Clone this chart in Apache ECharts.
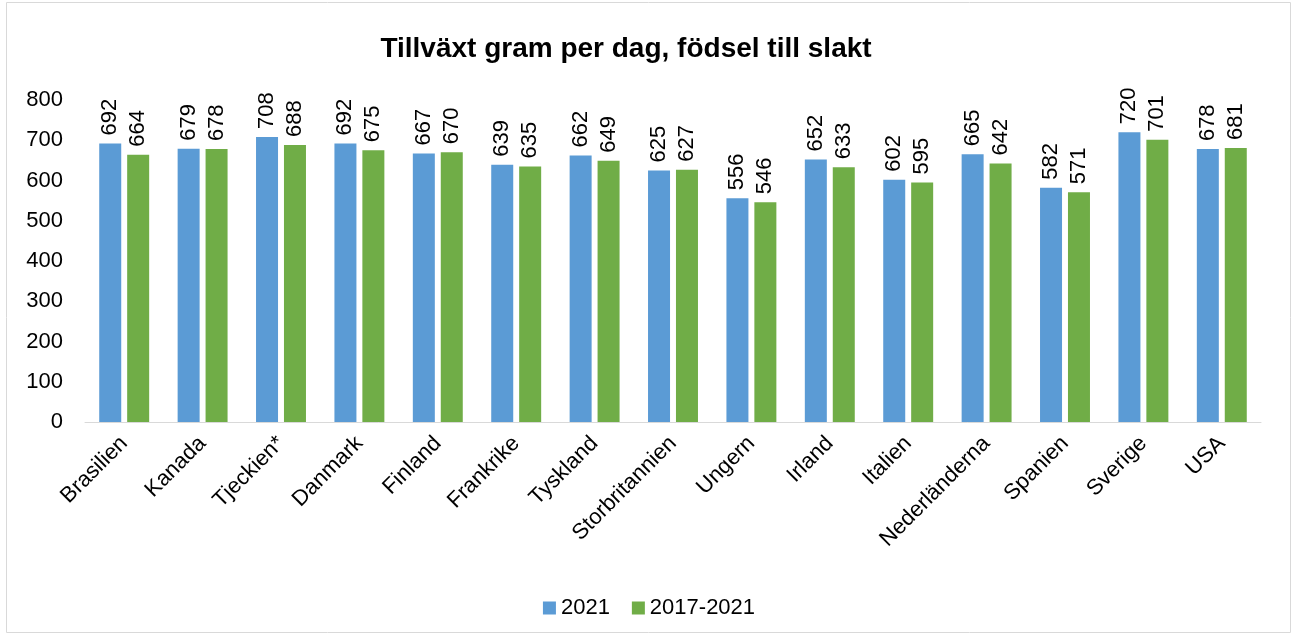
<!DOCTYPE html>
<html><head><meta charset="utf-8">
<script src="https://cdn.jsdelivr.net/npm/echarts@6/dist/echarts.min.js"></script>
<style>html,body{margin:0;padding:0;background:#fff}#c{width:1298px;height:640px}</style>
</head><body><div id="c"></div>
<script>
const titleText = 'Tillväxt gram per dag, födsel till slakt';
const categories = ['Brasilien','Kanada','Tjeckien*','Danmark','Finland','Frankrike','Tyskland','Storbritannien','Ungern','Irland','Italien','Nederländerna','Spanien','Sverige','USA'];
const seriesNames = ['2021','2017-2021'];
const values2021 = [692,679,708,692,667,639,662,625,556,652,602,665,582,720,678];
const values20172021 = [664,678,688,675,670,635,649,627,546,633,595,642,571,701,681];
const colors = ['#5b9bd5','#70ad47'];
const font = 'Liberation Sans, Arial, sans-serif';
const chart = echarts.init(document.getElementById('c'));
const lbl = {show:true, position:'top', rotate:90, align:'left', verticalAlign:'middle', distance:8, color:'#000', fontSize:22, fontFamily:font};
chart.setOption({
  animation:false,
  title:{text:titleText, left:621, textAlign:'center', top:30, textStyle:{fontFamily:font, fontWeight:'bold', fontSize:28, color:'#000'}},
  graphic:[{type:'rect', shape:{x:6.5,y:2.5,width:1284,height:630}, style:{fill:'none', stroke:'#d9d9d9', lineWidth:1}}],
  legend:{top:592, left:'center', itemWidth:13, itemHeight:13, itemGap:22, itemTextGap:3, icon:'rect', textStyle:{fontFamily:font, fontSize:22, color:'#000'}, data:seriesNames},
  grid:{left:85, right:37, top:100, bottom:218},
  xAxis:{type:'category', data:categories, axisTick:{show:false}, axisLine:{lineStyle:{color:'#d9d9d9'}},
    axisLabel:{rotate:45, interval:0, color:'#000', fontSize:22, fontFamily:font, margin:18}},
  yAxis:{type:'value', min:0, max:800, interval:100, splitLine:{show:false}, axisLine:{show:false}, axisTick:{show:false},
    axisLabel:{color:'#000', fontSize:22, fontFamily:font, margin:22}},
  series:[
    {name:seriesNames[0], type:'bar', data:values2021, barWidth:22, barGap:'27%', itemStyle:{color:colors[0]}, label:lbl},
    {name:seriesNames[1], type:'bar', data:values20172021, barWidth:22, itemStyle:{color:colors[1]}, label:lbl}
  ]
});
</script></body></html>
